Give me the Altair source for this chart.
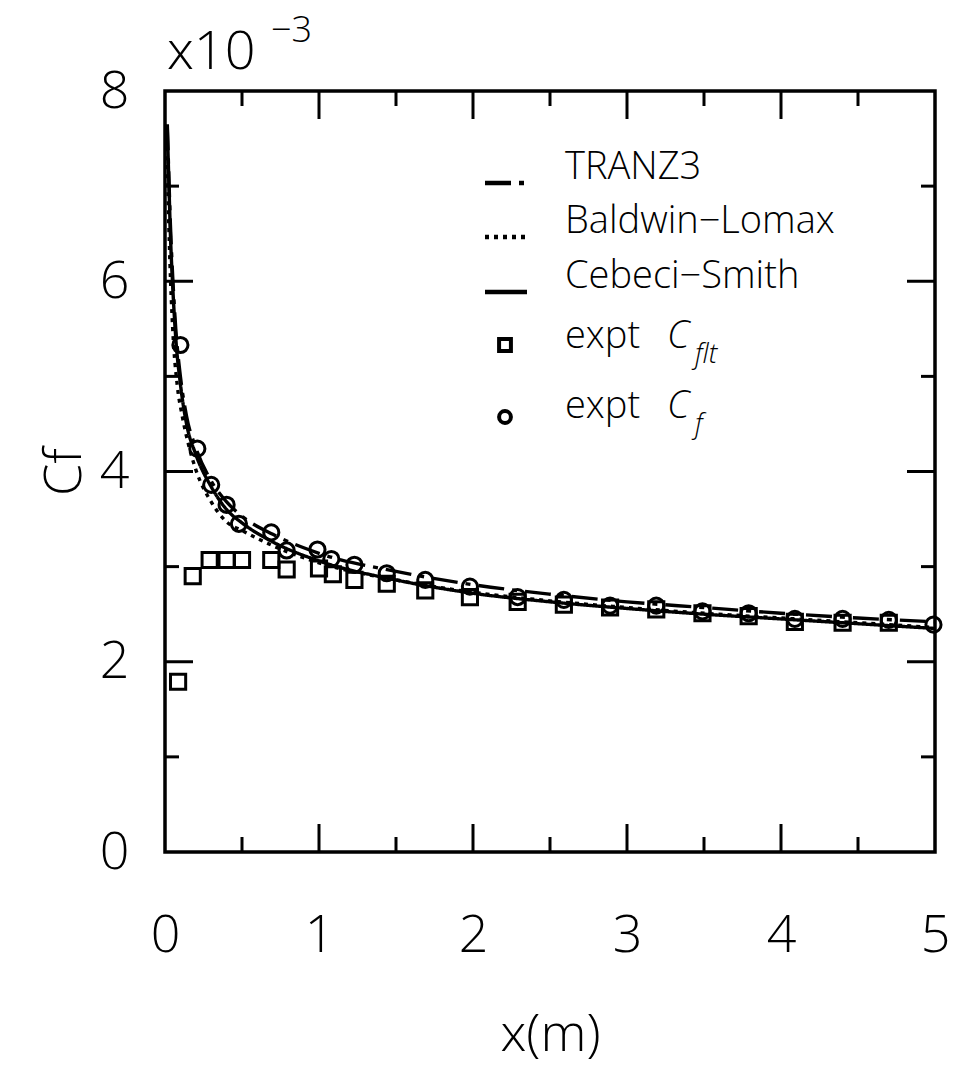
import altair as alt
import pandas as pd

# ---- data (Cf in units of 1e-3, x in metres) ----
cf_x = [0.10, 0.21, 0.30, 0.40, 0.48, 0.69, 0.79, 0.99, 1.08, 1.23, 1.44, 1.69, 1.98,
        2.29, 2.59, 2.89, 3.19, 3.49, 3.79, 4.09, 4.40, 4.70, 4.99]
cf_y = [5.33, 4.24, 3.86, 3.65, 3.45, 3.36, 3.17, 3.18, 3.08, 3.02, 2.93, 2.86, 2.79,
        2.68, 2.65, 2.59, 2.59, 2.53, 2.51, 2.45, 2.45, 2.44, 2.39]

flt_x = [0.085, 0.18, 0.29, 0.40, 0.50, 0.69, 0.79, 1.00, 1.09, 1.23, 1.44, 1.69, 1.98,
         2.29, 2.59, 2.89, 3.19, 3.49, 3.79, 4.09, 4.40, 4.70]
flt_y = [1.79, 2.90, 3.07, 3.07, 3.07, 3.07, 2.97, 2.98, 2.92, 2.86, 2.82, 2.75, 2.68,
         2.63, 2.60, 2.57, 2.55, 2.51, 2.48, 2.42, 2.41, 2.41]

tranz_x = [0.015, 0.025, 0.035, 0.05, 0.07, 0.10, 0.14, 0.20, 0.30, 0.40, 0.50, 0.70,
           1.00, 1.50, 2.00, 2.50, 3.00, 3.50, 4.00, 4.50, 5.00]
tranz_y = [7.65, 7.10, 6.60, 6.05, 5.50, 5.00, 4.58, 4.25, 3.90, 3.68, 3.53, 3.34,
           3.14, 2.95, 2.81, 2.71, 2.63, 2.57, 2.51, 2.46, 2.42]

bl_x = [0.012, 0.02, 0.03, 0.05, 0.08, 0.11, 0.15, 0.20, 0.30, 0.40, 0.50, 0.70,
        1.00, 1.50, 2.00, 2.50, 3.00, 3.50, 4.00, 4.50, 5.00]
bl_y = [7.60, 6.90, 6.30, 5.50, 4.90, 4.60, 4.30, 4.02, 3.68, 3.47, 3.38, 3.22,
        3.04, 2.86, 2.73, 2.64, 2.57, 2.51, 2.46, 2.41, 2.36]

cs_x = [0.015, 0.025, 0.035, 0.05, 0.07, 0.10, 0.14, 0.20, 0.30, 0.40, 0.50, 0.70,
        1.00, 1.50, 2.00, 2.50, 3.00, 3.50, 4.00, 4.50, 5.00]
cs_y = [7.60, 7.05, 6.50, 5.95, 5.40, 4.92, 4.50, 4.18, 3.84, 3.60, 3.46, 3.26,
        3.06, 2.86, 2.72, 2.63, 2.56, 2.50, 2.45, 2.40, 2.35]

x_major = [1, 2, 3, 4]
x_minor = [0.5, 1.5, 2.5, 3.5, 4.5]
y_major = [2, 4, 6]
y_minor = [1, 3, 5, 7]

W, H = 770, 761
FONT = "Open Sans"
WEIGHT = 300

xs = alt.Scale(domain=[0, 5], nice=False, zero=False)
ys = alt.Scale(domain=[0, 8], nice=False, zero=False)

x_axis = alt.Axis(values=[0, 1, 2, 3, 4, 5], format="d", domain=False, ticks=False,
                  grid=False, labelFontSize=52, labelPadding=58, labelFont=FONT,
                  labelFontWeight=WEIGHT, labelFlush=False, labelColor="black",
                  title="x(m)", titleFontSize=52, titleFont=FONT,
                  titleFontWeight=WEIGHT, titlePadding=48, titleColor="black")
y_axis = alt.Axis(values=[0, 2, 4, 6, 8], format="d", domain=False, ticks=False,
                  grid=False, labelFontSize=52, labelPadding=36, labelFont=FONT,
                  labelFontWeight=WEIGHT, labelFlush=False, labelColor="black",
                  title="Cf", titleFontSize=52, titleFont=FONT,
                  titleFontWeight=WEIGHT, titlePadding=8, titleColor="black")


def series(xv, yv, name):
    return pd.DataFrame({"x": xv, "y": yv, "s": name})


lines_df = pd.concat([series(tranz_x, tranz_y, "TRANZ3"),
                      series(bl_x, bl_y, "Baldwin-Lomax"),
                      series(cs_x, cs_y, "Cebeci-Smith")])

dash = {"TRANZ3": [26, 8, 5, 8], "Baldwin-Lomax": [4, 5], "Cebeci-Smith": [1, 0]}

line_layers = []
for name in ["TRANZ3", "Baldwin-Lomax", "Cebeci-Smith"]:
    d = lines_df[lines_df.s == name]
    line_layers.append(
        alt.Chart(d).mark_line(color="black", strokeWidth=3.4, strokeDash=dash[name],
                               interpolate="monotone", clip=True)
        .encode(x=alt.X("x:Q", scale=xs, axis=x_axis), y=alt.Y("y:Q", scale=ys, axis=y_axis))
    )

squares = alt.Chart(series(flt_x, flt_y, "flt")).mark_point(
    shape="square", size=230, filled=False, color="black", strokeWidth=3, opacity=1
).encode(x=alt.X("x:Q", scale=xs), y=alt.Y("y:Q", scale=ys))

circles = alt.Chart(series(cf_x, cf_y, "cf")).mark_point(
    shape="circle", size=230, filled=False, color="black", strokeWidth=3, opacity=1
).encode(x=alt.X("x:Q", scale=xs), y=alt.Y("y:Q", scale=ys))


# ---- inward tick marks on all four sides ----
def ticks(values, length, side):
    df = pd.DataFrame({"v": values})
    half = length / 2
    if side in ("bottom", "top"):
        yv = 0 if side == "bottom" else 8
        off = -half if side == "bottom" else half
        return alt.Chart(df).mark_tick(orient="vertical", size=length, thickness=3,
                                       color="black", opacity=1, yOffset=off).encode(
            x=alt.X("v:Q", scale=xs), y=alt.datum(yv, scale=ys))
    xv = 0 if side == "left" else 5
    off = half if side == "left" else -half
    return alt.Chart(df).mark_tick(orient="horizontal", size=length, thickness=3,
                                   color="black", opacity=1, xOffset=off).encode(
        y=alt.Y("v:Q", scale=ys), x=alt.datum(xv, scale=xs))


tick_layers = []
for side in ("bottom", "top"):
    tick_layers += [ticks(x_major, 28, side), ticks(x_minor, 15, side)]
for side in ("left", "right"):
    tick_layers += [ticks(y_major, 28, side), ticks(y_minor, 14, side)]


def label(t, xv, yv, size=38, style="normal", baseline="middle"):
    return alt.Chart(pd.DataFrame({"t": [t]})).mark_text(
        align="left", baseline=baseline, fontSize=size, font=FONT, color="black",
        fontStyle=style, fontWeight=WEIGHT
    ).encode(text="t:N", x=alt.value(xv), y=alt.value(yv))


# ---- exponent label above the frame ----
exp_base = label("x10", 2, -22, size=54, baseline="alphabetic")
exp_sup = label("\u22123", 106, -49, size=36, baseline="alphabetic")

# ---- key ----
key_rows = [("TRANZ3", 92), ("Baldwin\u2212Lomax", 146), ("Cebeci\u2212Smith", 201)]
key_dash = [[26, 8, 5, 8], [4, 5], [1, 0]]
key_layers = []
for (txt, yy), dsh in zip(key_rows, key_dash):
    key_layers.append(
        alt.Chart(pd.DataFrame({"s": [txt]})).mark_rule(
            color="black", strokeWidth=4.5, strokeDash=dsh
        ).encode(x=alt.value(320), x2=alt.value(362), y=alt.value(yy))
    )
    key_layers.append(label(txt, 400, yy - 15))

key_sq = alt.Chart(pd.DataFrame({"k": [1]})).mark_point(
    shape="square", size=140, filled=False, color="black", strokeWidth=4, opacity=1
).encode(x=alt.value(340), y=alt.value(254))
key_ci = alt.Chart(pd.DataFrame({"k": [1]})).mark_point(
    shape="circle", size=140, filled=False, color="black", strokeWidth=4, opacity=1
).encode(x=alt.value(340), y=alt.value(326))

key_text = [
    label("expt", 400, 246), label("C", 502, 246, style="italic"),
    label("flt", 530, 264, size=27, style="italic"),
    label("expt", 400, 316), label("C", 502, 316, style="italic"),
    label("f", 530, 334, size=27, style="italic"),
]

chart = alt.layer(
    *line_layers, squares, circles, *tick_layers, exp_base, exp_sup,
    *key_layers, key_sq, key_ci, *key_text
).properties(
    width=W, height=H, autosize=alt.AutoSizeParams(type="none"),
    padding={"left": 165, "top": 91, "right": 20, "bottom": 224},
    background="white"
).configure_view(stroke="black", strokeWidth=3.5)

chart.save("out.html", embed_options={"renderer": "svg", "actions": False})
